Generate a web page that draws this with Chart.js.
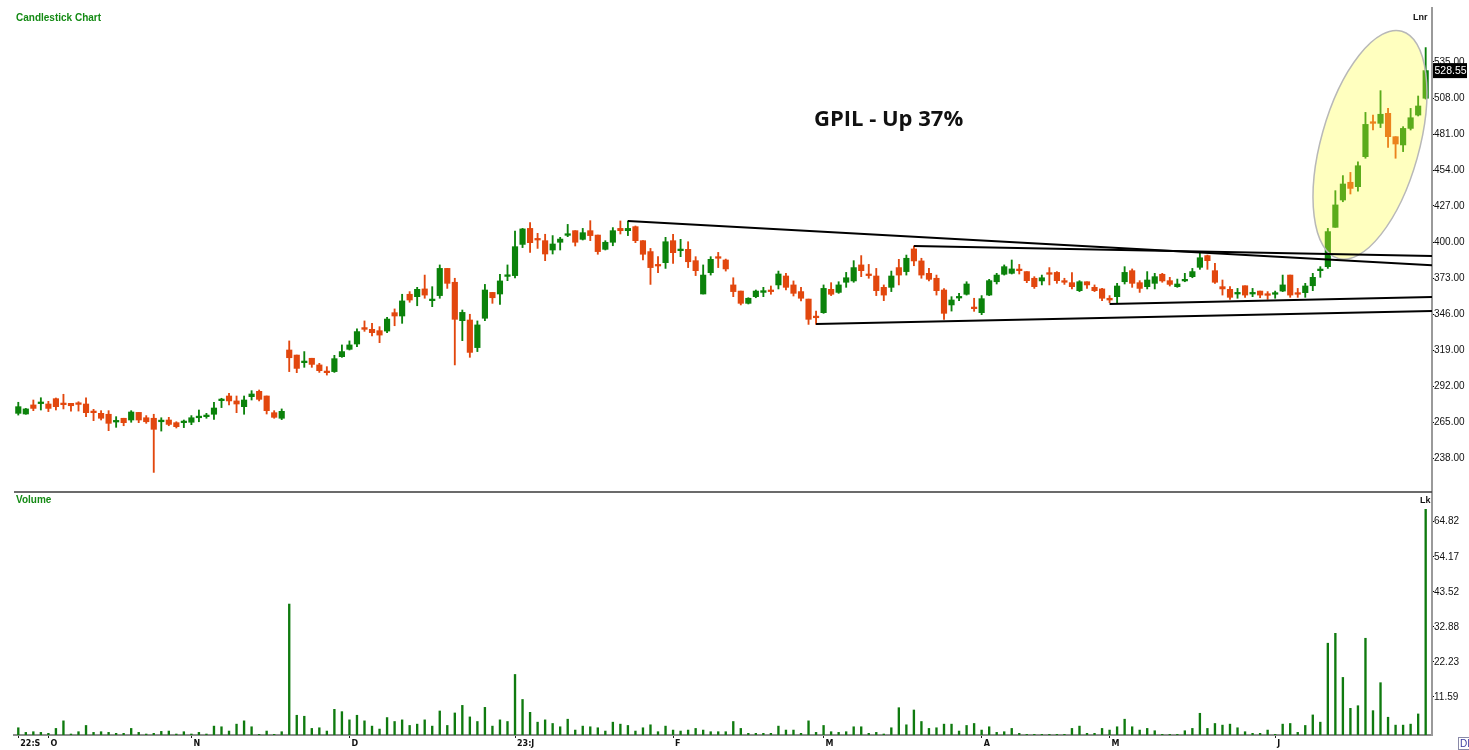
<!DOCTYPE html>
<html>
<head>
<meta charset="utf-8">
<title>GPIL - Candlestick Chart</title>
<script src="https://cdn.jsdelivr.net/npm/chart.js@4.4.0/dist/chart.umd.min.js"></script>
<style>
    html, body { margin: 0; padding: 0; background: #fff; }
    #wrap { position: relative; width: 1469px; height: 750px; overflow: hidden; }
    #chart { position: absolute; left: 0; top: 0; }
    .lbl { position: absolute; white-space: nowrap; line-height: 1; font-weight: bold; }
    .pane-title { font-family: 'Liberation Sans', Arial, sans-serif; font-size: 10px; color: #148a14; }
    .unit { font-family: 'Liberation Sans', Arial, sans-serif; font-size: 9px; color: #111; }
    .headline { font-family: 'Open Sans', 'Liberation Sans', sans-serif; font-size: 22px; color: #111; }
    .corner { position: absolute; left: 1458px; top: 737px; width: 14px; height: 13px; border: 1px solid #8a8aa8;
              font: 10px 'Liberation Sans', sans-serif; color: #3a3aa0; padding-left: 1px; box-sizing: border-box; }
</style>
</head>
<body>
<div id="wrap">
    <canvas id="chart" width="1469" height="750"></canvas>
    <div class="lbl pane-title" style="left:16px; top:13px;">Candlestick Chart</div>
    <div class="lbl pane-title" style="left:16px; top:495px;">Volume</div>
    <div class="lbl unit" style="left:1413px; top:13px;">Lnr</div>
    <div class="lbl unit" style="left:1420px; top:496px;">Lk</div>
    <div class="lbl headline" style="left:814px; top:106px;">GPIL - Up 37%</div>
    <div class="corner">DI</div>
</div>

<script>
// daily candles, 22 Sep 2022 .. Jun 2023
const opens = [
    271.5, 271, 277.8, 278.8, 278.5, 282.5, 278.8, 279, 278.8, 278.5,
    272.8, 271.5, 270.8, 265, 267.8, 266.5, 272.2, 268.2, 267.8, 265.2,
    266.5, 264.5, 264.5, 264.8, 268.2, 269, 270.8, 281, 284.5, 280.8,
    276.5, 284, 288, 284.5, 272, 267.8, 319, 315.2, 309.5, 312.8,
    307.8, 303, 302.8, 314, 319.5, 323.5, 335.8, 334.5, 333.5, 333.2,
    347, 344.5, 360.8, 359, 364.8, 356, 359.8, 380.2, 369.8, 341,
    341.5, 320.8, 342.8, 362.2, 361, 374.2, 374.8, 398.2, 410.2, 402.2,
    401, 394, 399.8, 405, 408.5, 402, 408.5, 405.2, 394.5, 399.8,
    410.2, 408.5, 411.5, 401, 392.8, 382.8, 384.5, 401, 393.5, 394.5,
    386, 361, 377, 389, 386.5, 367.8, 363.2, 354, 359, 362.2,
    363.5, 367.8, 374.5, 367.8, 362.8, 357.2, 344, 347, 364.5, 362.2,
    369.8, 370.8, 382.8, 375.8, 374.5, 366, 366, 380.8, 377.8, 394.8,
    385.8, 376.5, 372.8, 364, 352.8, 358, 360.8, 350.8, 347, 360.2,
    370.2, 375.8, 376.5, 379.5, 377.8, 372.8, 370.8, 376.5, 377.2, 371,
    369.5, 363.5, 370.2, 366, 364.8, 357.8, 359, 370.2, 378.5, 369.5,
    366.5, 369, 375.8, 371, 366.5, 370.8, 374, 381, 389.8, 378.5,
    366.5, 364.5, 361, 367.2, 361, 363.2, 360.8, 360.8, 363.2, 375.2,
    362, 362, 367.2, 378.5, 381.5, 411, 431.5, 444.8, 441.5, 464,
    490.2, 489, 496.5, 479, 472.8, 485.2, 495.2, 507.8
];
const highs = [
    279.8, 275.2, 281.5, 283.2, 280.5, 283, 285.8, 279, 280.2, 283.2,
    274.5, 273.5, 273.5, 269, 267.8, 273.5, 272.2, 269.8, 270.8, 268.2,
    268.5, 265.2, 266.5, 269.8, 274, 271.5, 279.8, 282.8, 286.5, 284.5,
    284.5, 288.5, 289, 284.5, 273.5, 274.8, 325.8, 315.2, 317.8, 312.8,
    309, 306.5, 315, 322.8, 325.8, 334.8, 340.8, 339, 336.5, 343.5,
    349.8, 360.8, 362.8, 366, 375.2, 366.5, 382.8, 380.2, 372.8, 349,
    345.8, 340.8, 368.2, 362.2, 375.8, 382.8, 408.2, 410.2, 414.5, 406.5,
    405.8, 404.8, 403.5, 413.2, 408.5, 410.2, 416, 405.2, 401, 410.8,
    415.8, 415.8, 412, 401, 395.2, 389, 403.5, 405.8, 402, 400.2,
    389, 382.8, 389, 392.2, 387.2, 373.2, 363.2, 358.2, 364, 366,
    367, 378.2, 376.5, 370.8, 366, 357.2, 348.2, 367.8, 369.5, 370.2,
    377.2, 386, 389.8, 383.2, 380.2, 367.8, 378.2, 387, 390.2, 397,
    387.8, 380.2, 375.2, 365, 359, 361.5, 370.2, 357.8, 359.8, 372,
    376.5, 382.8, 386.5, 383.2, 377.8, 374, 375.2, 380.8, 377.8, 372.8,
    377, 371, 370.2, 367.8, 365.2, 359.8, 369, 381.5, 379.8, 371,
    377.8, 376.5, 376.5, 373.5, 372.2, 376.5, 380.2, 391.5, 390.2, 384,
    371.5, 366.5, 365.2, 367.2, 365.2, 363.2, 362.8, 363.2, 375.2, 375.2,
    365.2, 369, 376.5, 381.5, 410.2, 438.5, 449.8, 452.2, 460.2, 497.2,
    495.2, 513.5, 500.2, 479, 486.5, 500.2, 509.5, 545.8
];
const lows = [
    270.2, 270.8, 273.5, 274, 272.8, 274, 274.8, 273.2, 273.2, 269,
    266, 266.5, 258.5, 261, 262.2, 264.8, 264.5, 264, 227.2, 258.2,
    262.2, 260.5, 260.8, 263, 265.2, 267.8, 267, 275.8, 277.8, 272,
    270.8, 281.5, 280.8, 271, 267.8, 266.8, 302.8, 302, 306, 306,
    302.2, 300.2, 302.2, 313.5, 319, 321.5, 333, 329.5, 324.5, 332,
    337.2, 339, 354.8, 352.2, 357.8, 351.5, 357.8, 365.2, 307.8, 326,
    313.5, 317.8, 341, 354, 353.2, 371, 373, 395.8, 392.2, 395.2,
    386, 391, 394, 404, 397, 401.5, 401, 390.8, 394, 397.2,
    406, 404.8, 399.5, 386.5, 368.2, 377, 380.2, 384, 389, 380.8,
    374.8, 361, 375.2, 380.8, 378.2, 359, 352.8, 353.5, 358.2, 359,
    360.8, 364.8, 364, 359.5, 355.8, 338.2, 338.2, 346.5, 359.8, 361.5,
    366, 369.8, 374, 372.8, 359.8, 356, 362.8, 367.8, 375.2, 382.2,
    372.8, 370.8, 360.2, 342, 348.2, 356, 360.2, 348, 345.5, 359.8,
    368.5, 375.2, 376, 376, 369.5, 365.2, 367.8, 367.8, 369, 368.2,
    364.8, 362.8, 365.2, 362.8, 356, 354.5, 354.5, 368.5, 366, 362.2,
    364.8, 364.8, 369.8, 367, 366, 370.2, 373.2, 379.5, 379.5, 369,
    360.2, 357, 357.8, 358.5, 359, 358.2, 357, 357.8, 362.8, 358.5,
    358.5, 358.5, 363.5, 373.5, 380.2, 411, 430.2, 436, 438.2, 462.8,
    484, 485.8, 471, 462.8, 467.8, 484, 494.5, 507.2
];
const closes = [
    276.5, 274.8, 275.2, 279, 275.2, 276.5, 278, 277.2, 278.2, 272,
    272, 267.8, 264, 265.8, 264.5, 272.5, 266.5, 265.2, 259.5, 266,
    263.2, 261.5, 265.2, 268.2, 269, 269.8, 275.5, 282, 280.8, 278.5,
    281.5, 286, 282, 273.5, 268.5, 273, 313.2, 305.2, 310.2, 308.2,
    303.5, 302, 312.5, 317.8, 322.8, 332.8, 334.5, 332, 330.2, 342.2,
    344.5, 355.8, 356.5, 364.5, 360.2, 356.8, 380.2, 369, 342, 347.2,
    317.2, 337.8, 364, 358.2, 370.8, 374.8, 396.5, 409.8, 399.5, 401.5,
    391, 398.5, 402.2, 405.8, 399.8, 407, 404.8, 392.8, 399.8, 408.5,
    408.5, 410.2, 401, 390.8, 380.8, 382, 400.2, 392, 394.2, 385.2,
    378.5, 375.2, 387, 387.8, 379.8, 362.8, 354, 357.8, 363.2, 363.5,
    362.8, 376, 366, 361.5, 357.8, 342, 343.2, 365.2, 360.8, 367.8,
    373.2, 380.8, 378.5, 374.8, 363.5, 360.2, 374.5, 375.2, 387.8, 385.8,
    375.2, 372, 363.5, 346.5, 356.5, 359, 368.5, 350, 357.5, 371,
    375.2, 381.5, 379.8, 378.5, 371, 366.5, 373.2, 375.8, 371, 369.8,
    366.5, 370.2, 367.8, 363.5, 357.8, 356.5, 367, 377.2, 369, 365.2,
    371.5, 374, 370.8, 368.2, 368.5, 371.5, 377.8, 388.2, 386, 369.8,
    364.8, 358.5, 362.2, 360.2, 362.2, 360.2, 360, 361.5, 367.8, 360.2,
    360.8, 367, 373.5, 379.5, 407.8, 427.8, 443.5, 440.2, 457.2, 488.2,
    489, 495.8, 479, 473.5, 485.2, 493.2, 502, 528.55
];
// volume in lakh shares
const volumes = [
    2.2, 0.8, 1.0, 0.8, 0.5, 2.0, 4.3, 0.3, 1.0, 2.9,
    0.8, 1.0, 0.8, 0.5, 0.5, 2.0, 0.8, 0.3, 0.5, 1.1,
    1.2, 0.3, 1.0, 0.3, 0.8, 0.3, 2.7, 2.5, 1.2, 3.3,
    4.3, 2.5, 0.2, 1.2, 0.2, 1.0, 39.8, 6.0, 5.7, 2.0,
    2.2, 1.2, 7.8, 7.1, 4.6, 6.0, 4.3, 2.7, 1.8, 5.3,
    4.1, 4.6, 2.9, 3.3, 4.6, 2.7, 7.3, 2.9, 6.7, 9.0,
    5.5, 4.1, 8.4, 2.7, 4.6, 4.1, 18.4, 10.8, 6.9, 3.9,
    4.6, 3.5, 2.5, 4.8, 1.5, 2.7, 2.5, 2.2, 1.2, 3.9,
    3.3, 2.9, 1.2, 2.2, 3.1, 1.0, 2.7, 1.5, 1.2, 1.5,
    2.0, 1.5, 1.0, 1.0, 1.0, 4.1, 2.0, 0.5, 0.5, 0.5,
    0.5, 2.7, 1.5, 1.5, 0.5, 4.3, 0.8, 2.9, 1.0, 0.8,
    1.0, 2.5, 2.5, 0.5, 0.8, 0.3, 2.2, 8.3, 3.1, 7.6,
    4.1, 2.0, 2.2, 3.3, 3.3, 1.2, 2.9, 3.5, 1.5, 2.5,
    0.8, 1.0, 2.0, 0.5, 0.2, 0.2, 0.2, 0.2, 0.2, 0.2,
    2.0, 2.7, 0.5, 0.5, 2.0, 1.5, 2.5, 4.8, 2.5, 1.5,
    2.0, 1.3, 0.2, 0.2, 0.2, 1.3, 2.0, 6.6, 2.0, 3.5,
    3.0, 3.3, 2.2, 1.0, 0.5, 0.5, 1.5, 0.2, 3.3, 3.5,
    0.8, 2.9, 6.1, 3.9, 27.9, 30.9, 17.5, 8.1, 8.9, 29.4,
    7.4, 15.9, 5.4, 3.0, 3.0, 3.3, 6.4, 68.6
];

// first trading day of each month (candle index) and its label
const monthTickIdx = [0, 4, 23, 44, 66, 87, 107, 128, 145, 167];
const monthTickLabels = ['22:S', 'O', 'N', 'D', '23:J', 'F', 'M', 'A', 'M', 'J'];

const priceTicks = [238, 265, 292, 319, 346, 373, 400, 427, 454, 481, 508, 535];
const volumeTicks = [11.59, 22.23, 32.88, 43.52, 54.17, 64.82];

// hand drawn trend lines: [candle index, price]
const trendTop = [[81, 415.8], [188, 382.6]];
const trendRes = [[119, 397], [188, 389.4]];
const trendSup = [[145, 353.5], [188, 358.8]];
const trendBase = [[106, 338.5], [188, 348.2]];

// centre of the highlighted breakout
const breakout = { idx: 179.6, price: 472.8 };

const UP = '#0b820b';
const DOWN = '#e2470e';

const idx = closes.map((c, i) => i);
const candleColors = closes.map((c, i) => (c >= opens[i] ? UP : DOWN));

function trendDataset(points) {
    return {
        type: 'line',
        data: points.map(p => ({ x: p[0], y: p[1] })),
        yAxisID: 'y',
        borderColor: '#000',
        borderWidth: 2,
        pointRadius: 0,
        order: 0
    };
}

const overlayPlugin = {
    id: 'overlay',
    beforeDatasetsDraw(chart) {
        chart.$ellipseDone = false;
    },
    beforeDatasetDraw(chart, args) {
        if (chart.$ellipseDone || chart.data.datasets[args.index].type !== 'line') {
            return;
        }
        chart.$ellipseDone = true;
        const ctx = chart.ctx;
        const cx = chart.scales.x.getPixelForValue(breakout.idx);
        const cy = chart.scales.y.getPixelForValue(breakout.price);
        ctx.save();
        ctx.beginPath();
        ctx.ellipse(cx, cy, 49, 118, 0.273, 0, Math.PI * 2);
        ctx.fillStyle = 'rgba(255, 255, 60, 0.33)';
        ctx.fill();
        ctx.lineWidth = 1.5;
        ctx.strokeStyle = '#b8b8b8';
        ctx.stroke();
        ctx.restore();
    },
    afterDraw(chart) {
        const ctx = chart.ctx;
        const area = chart.chartArea;
        const yScale = chart.scales.y;

        // line between price and volume panes
        ctx.save();
        ctx.beginPath();
        ctx.moveTo(area.left, yScale.bottom);
        ctx.lineTo(area.right, yScale.bottom);
        ctx.lineWidth = 1.5;
        ctx.strokeStyle = '#3a3a3a';
        ctx.stroke();

        // last price tag
        const last = closes[closes.length - 1];
        const y = yScale.getPixelForValue(last);
        ctx.fillStyle = '#000';
        ctx.fillRect(area.right + 1, y - 7.5, 34, 15);
        ctx.fillStyle = '#fff';
        ctx.font = '10.5px "Liberation Sans", Arial, sans-serif';
        ctx.textBaseline = 'middle';
        ctx.textAlign = 'left';
        ctx.fillText(last.toFixed(2), area.right + 2.5, y + 0.5);
        ctx.restore();
    }
};

Chart.defaults.font.family = '"Liberation Sans", Arial, sans-serif';

const tickFont = { size: 10 };

new Chart(document.getElementById('chart'), {
    type: 'bar',
    data: {
        datasets: [
            {
                label: 'wick',
                data: idx.map(i => ({ x: i, y: [lows[i], highs[i]] })),
                yAxisID: 'y',
                backgroundColor: candleColors,
                barThickness: 1.2,
                grouped: false,
                order: 3
            },
            {
                label: 'body',
                data: idx.map(i => ({ x: i, y: [opens[i], closes[i]] })),
                yAxisID: 'y',
                backgroundColor: candleColors,
                barThickness: 5.5,
                minBarLength: 1.6,
                grouped: false,
                order: 2
            },
            {
                label: 'volume',
                data: idx.map(i => ({ x: i, y: volumes[i] })),
                yAxisID: 'yv',
                backgroundColor: '#0f7a0f',
                barThickness: 1.7,
                grouped: false,
                order: 2
            },
            trendDataset(trendTop),
            trendDataset(trendRes),
            trendDataset(trendSup),
            trendDataset(trendBase)
        ]
    },
    options: {
        responsive: false,
        animation: false,
        events: [],
        layout: { padding: { top: 8, left: 14, right: 0, bottom: 0 } },
        plugins: {
            legend: { display: false },
            tooltip: { enabled: false }
        },
        scales: {
            x: {
                type: 'linear',
                offset: false,
                min: -0.57,
                max: 187.84,
                grid: { drawOnChartArea: false, tickLength: 3, color: '#222', offset: false },
                border: { color: '#8c8c8c', width: 2 },
                ticks: {
                    autoSkip: false,
                    maxRotation: 0,
                    align: 'start',
                    labelOffset: 2,
                    padding: 1,
                    color: '#111',
                    font: { family: '"DejaVu Sans", sans-serif', size: 8, weight: 'bold' },
                    callback: v => {
                        const k = monthTickIdx.indexOf(v);
                        return k >= 0 ? monthTickLabels[k] : '';
                    }
                },
                afterBuildTicks: s => { s.ticks = monthTickIdx.map(v => ({ value: v })); },
                afterFit: s => { s.height = 15; }
            },
            y: {
                type: 'linear',
                position: 'right',
                stack: 'panes',
                stackWeight: 484,
                min: 212.5,
                max: 575.5,
                grid: { drawOnChartArea: false, tickLength: 2, color: '#000' },
                border: { color: '#9a9a9a', width: 2 },
                ticks: {
                    padding: 0,
                    color: '#111',
                    font: tickFont,
                    callback: v => v.toFixed(2)
                },
                afterBuildTicks: s => { s.ticks = priceTicks.map(v => ({ value: v })); },
                afterFit: s => { s.width = 37; }
            },
            yv: {
                type: 'linear',
                position: 'right',
                stack: 'panes',
                stackWeight: 243,
                min: 0,
                max: 73.86,
                grid: { drawOnChartArea: false, tickLength: 2, color: '#000' },
                border: { color: '#9a9a9a', width: 2 },
                ticks: {
                    padding: 0,
                    color: '#111',
                    font: tickFont,
                    callback: v => v.toFixed(2)
                },
                afterBuildTicks: s => { s.ticks = volumeTicks.map(v => ({ value: v })); },
                afterFit: s => { s.width = 37; }
            }
        }
    },
    plugins: [overlayPlugin]
});
</script>
</body>
</html>
